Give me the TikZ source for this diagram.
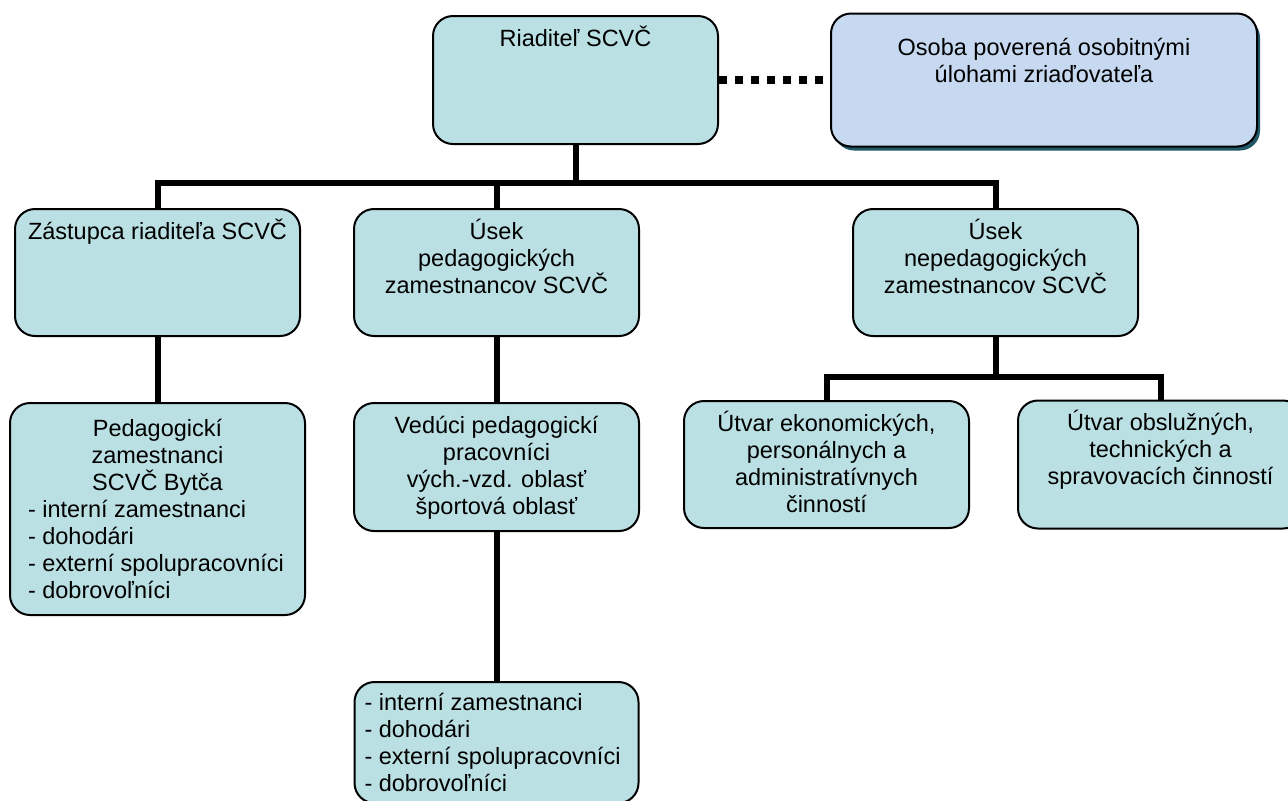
\documentclass[tikz,border=0pt]{standalone}
\usepackage{fontspec}
\setmainfont{Liberation Sans}
\usetikzlibrary{positioning,shadows}
\definecolor{boxfill}{RGB}{187,224,227}
\definecolor{osobafill}{RGB}{198,217,241}
\definecolor{shadowc}{RGB}{33,88,104}

\begin{document}
\begin{tikzpicture}[x=0.5pt,y=-0.5pt,
    box/.style={draw,line width=1pt,rounded corners=10pt,fill=boxfill,inner xsep=4pt,inner ysep=0pt,
      text width=134.5pt,text height=15pt,text depth=48.5pt,align=flush center,font=\fontsize{11.75}{13.5}\selectfont},
    conn/.style={line width=3pt},
    dots/.style={line width=4pt,dash pattern=on 4pt off 4pt}]
        \useasboundingbox (0,0) rectangle (1288,800);
        \node[box,anchor=north west,text depth=49pt] (ria) at (432,15) {Riaditeľ SCVČ};
        \node[box,fill=osobafill,text width=205pt,text height=21pt,text depth=45.5pt,
          drop shadow={shadow xshift=1.5pt,shadow yshift=-2pt,fill=shadowc,opacity=1}] (osoba) [right=55.5pt of ria]
          {Osoba poverená osobitnými\\ úlohami zriaďovateľa};
        \node[box,anchor=north west] (zas) at (14,208) {Zástupca riaditeľa SCVČ};
        \node[box] (useped) [right=26pt of zas] {Úsek\\ pedagogických\\ zamestnancov SCVČ};
        \node[box] (usenep) [right=106pt of useped] {Úsek\\ nepedagogických\\ zamestnancov SCVČ};
        \node[box,align=flush left,inner xsep=9pt,text width=129.5pt,text height=16.5pt,text depth=89.5pt] (peda) [below=32.5pt of zas]
          {\centering Pedagogickí\\ zamestnanci\\ SCVČ Bytča\par\raggedright
           - interní zamestnanci\\ - dohodári\\ - externí spolupracovníci\\ - dobrovoľníci};
        \node[box,text depth=49pt] (ved) [below=32.5pt of useped]
          {Vedúci pedagogickí\\ pracovníci\\ vých.-vzd. oblasť\\ športová oblasť};
        \node[box,align=flush left,inner xsep=5pt,text width=132pt,text height=14pt,text depth=46.5pt] (list) [below=74.5pt of ved]
          {- interní zamestnanci\\ - dohodári\\ - externí spolupracovníci\\ - dobrovoľníci};
        \node[box,anchor=north west] (ekon) at (683,400)
          {Útvar ekonomických,\\ personálnych a\\ administratívnych\\ činností};
        \node[box,text depth=49pt] (obsl) [right=23.5pt of ekon]
          {Útvar obslužných,\\ technických a\\ spravovacích činností};
        \coordinate (bar) at (0,183);
        \coordinate (sub) at (0,377);
        \draw[dots] (ria.east) -- (osoba.west);
        \draw[conn] (ria.south) -- (ria.south |- bar);
        \draw[conn] (zas.north) |- (usenep.north |- bar) -- (usenep.north);
        \draw[conn] (useped.north) -- (useped.north |- bar);
        \draw[conn] (zas.south) -- (peda.north);
        \draw[conn] (useped.south) -- (ved.north);
        \draw[conn] (ved.south) -- (list.north);
        \draw[conn] (usenep.south) -- (usenep.south |- sub);
        \draw[conn] (ekon.north) |- (obsl.north |- sub) -- (obsl.north);
    \end{tikzpicture}
\end{document}
